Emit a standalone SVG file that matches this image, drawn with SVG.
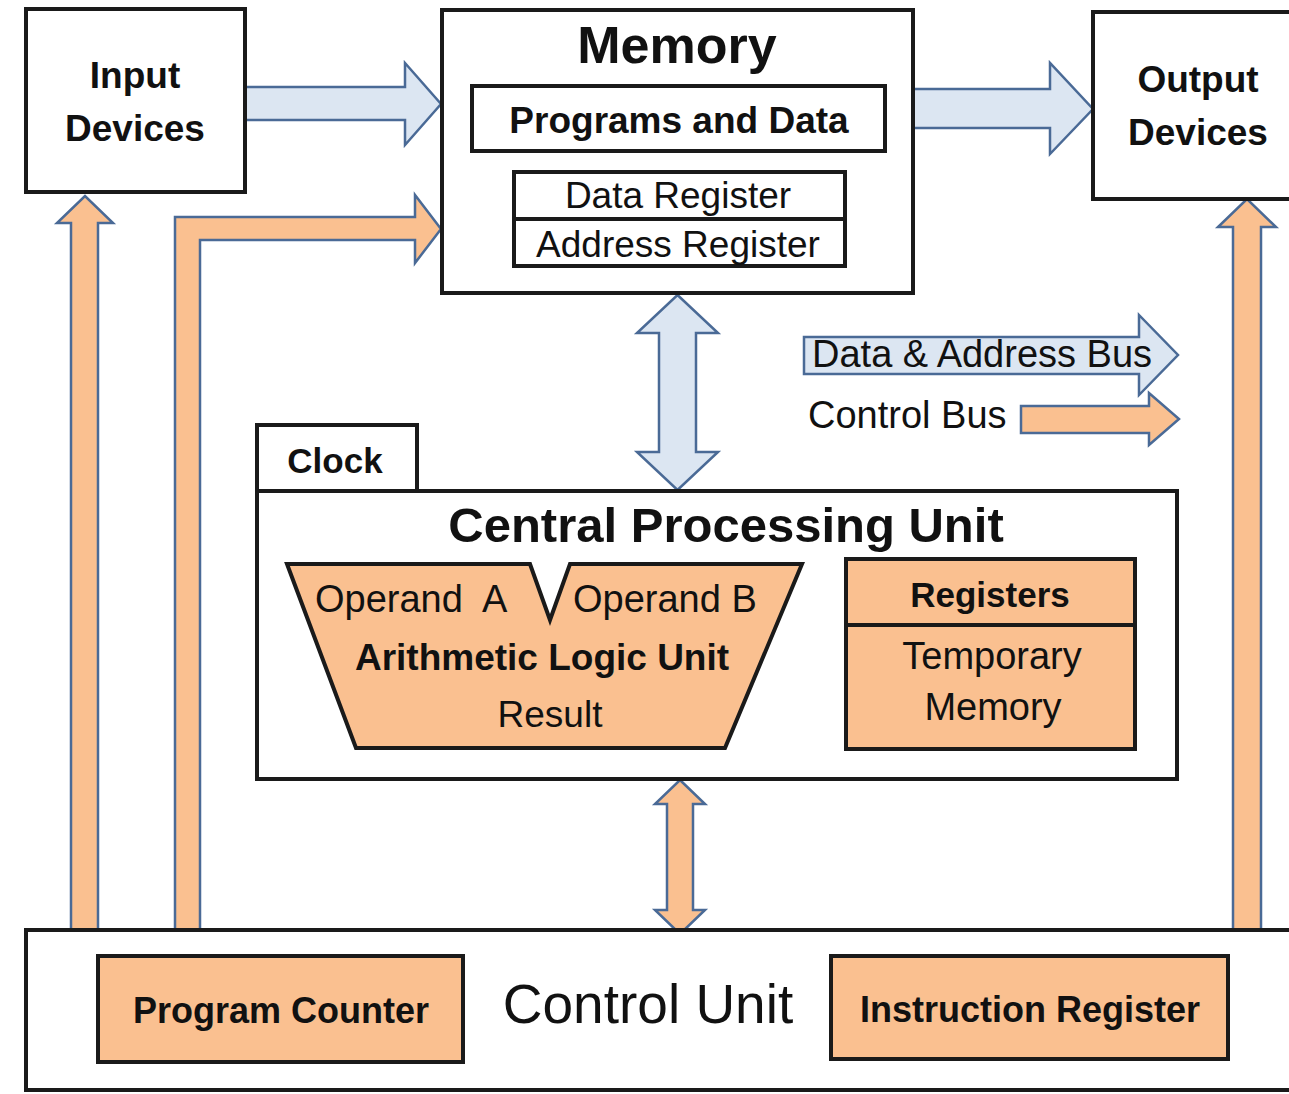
<svg xmlns="http://www.w3.org/2000/svg" width="1289" height="1094" viewBox="0 0 1289 1094">
<style>
.box{fill:#fff;stroke:#1a1a1a;stroke-width:4}
.obox{fill:#fac090;stroke:#1a1a1a;stroke-width:4}
.ba{fill:#dce6f2;stroke:#4a6a96;stroke-width:2.5;stroke-linejoin:miter}
.oa{fill:#fac090;stroke:#4a6a96;stroke-width:2.5;stroke-linejoin:miter}
text{font-family:"Liberation Sans",Arial,sans-serif;fill:#111}
.b{font-weight:bold}
.m{text-anchor:middle}
</style>
<rect width="1289" height="1094" fill="#fff"/>
<g id="connectors">
<polygon class="ba" points="245,87 405,87 405,63 441,104 405,145 405,120 245,120"/>
<polygon class="ba" points="913,89 1050,89 1050,63 1093,109 1050,154 1050,128 913,128"/>
<polygon class="oa" points="71,930 71,223 57,223 85,196 113,223 98,223 98,930"/>
<polygon class="oa" points="175,930 175,217 415,217 415,195 441,229 415,263 415,240 200,240 200,930"/>
<polygon class="ba" points="677.5,295 718,333 696,333 696,452 718,452 677.5,490 637,452 659,452 659,333 637,333"/>
<polygon class="oa" points="680,780 705,804 693,804 693,910 705,910 680,934 655,910 667,910 667,804 655,804"/>
<polygon class="oa" points="1233,930 1233,227 1218,227 1247,199 1276,227 1261,227 1261,930"/>
</g>
<g id="legend">
<polygon class="ba" points="804,337 1139,337 1139,315 1178,355 1139,395 1139,374 804,374"/>
<text x="812" y="367" font-size="38">Data &amp; Address Bus</text>
<text x="808" y="428" font-size="38">Control Bus</text>
<polygon class="oa" points="1021,406 1149,406 1149,393 1179,419 1149,445 1149,433 1021,433"/>
</g>
<g id="input-devices">
<rect class="box" x="26" y="9" width="219" height="183"/>
<text class="b m" x="135" y="88" font-size="37">Input</text>
<text class="b m" x="135" y="141" font-size="37">Devices</text>
</g>
<g id="memory">
<rect class="box" x="442" y="10" width="471" height="283"/>
<text class="b m" x="677" y="63" font-size="52">Memory</text>
<rect class="box" x="472" y="86" width="413" height="65"/>
<text class="b m" x="679" y="133" font-size="37">Programs and Data</text>
<rect class="box" x="514" y="172" width="331" height="94"/>
<line x1="514" y1="219" x2="845" y2="219" stroke="#1a1a1a" stroke-width="4"/>
<text class="m" x="678" y="208" font-size="37">Data Register</text>
<text class="m" x="678" y="257" font-size="37">Address Register</text>
</g>
<g id="output-devices">
<rect class="box" x="1093" y="12" width="220" height="187"/>
<text class="b m" x="1198" y="92" font-size="37">Output</text>
<text class="b m" x="1198" y="145" font-size="37">Devices</text>
</g>
<g id="clock">
<rect class="box" x="257" y="425" width="160" height="67"/>
<text class="b m" x="335" y="473" font-size="35">Clock</text>
</g>
<g id="cpu">
<rect class="box" x="257" y="491" width="920" height="288"/>
<text class="b m" x="726" y="542" font-size="49">Central Processing Unit</text>
</g>
<g id="alu">
<polygon class="obox" points="287,564 530,564 550,620 570,564 802,564 725,748 356,748"/>
<text x="315" y="612" font-size="38" xml:space="preserve">Operand  A</text>
<text x="573" y="612" font-size="38">Operand B</text>
<text class="b m" x="542" y="670" font-size="37">Arithmetic Logic Unit</text>
<text class="m" x="550" y="727" font-size="37">Result</text>
</g>
<g id="registers">
<rect class="obox" x="846" y="559" width="289" height="190"/>
<line x1="846" y1="625" x2="1135" y2="625" stroke="#1a1a1a" stroke-width="4"/>
<text class="b m" x="990" y="607" font-size="35">Registers</text>
<text class="m" x="992" y="669" font-size="38">Temporary</text>
<text class="m" x="993" y="720" font-size="38">Memory</text>
</g>
<g id="control-unit">
<rect class="box" x="26" y="930" width="1290" height="160"/>
<text class="m" x="648" y="1023" font-size="55">Control Unit</text>
</g>
<g id="program-counter">
<rect class="obox" x="98" y="956" width="365" height="106"/>
<text class="b m" x="281" y="1023" font-size="36">Program Counter</text>
</g>
<g id="instruction-register">
<rect class="obox" x="831" y="956" width="397" height="103"/>
<text class="b m" x="1030" y="1022" font-size="36">Instruction Register</text>
</g>
</svg>
